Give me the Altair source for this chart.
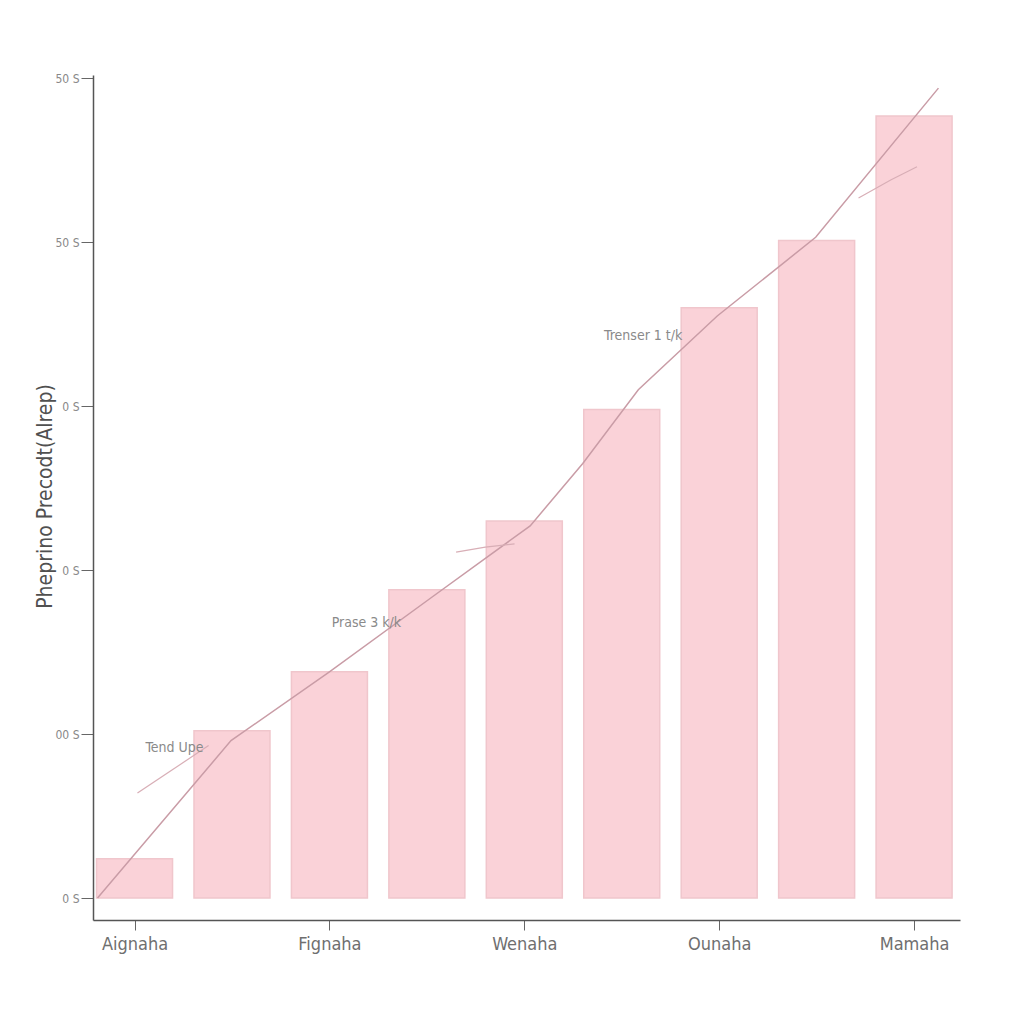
import altair as alt
import pandas as pd

# ---- data ----
bar_index = [1, 2, 3, 4, 5, 6, 7, 8, 9]
bar_values = [2.4, 10.2, 13.8, 18.8, 23.0, 29.8, 36.0, 40.1, 47.7]

x_tick_positions = [1, 3, 5, 7, 9]
x_tick_labels = ["Aignaha", "Fignaha", "Wenaha", "Ounaha", "Mamaha"]

y_tick_values = [0, 10, 20, 30, 40, 50]
y_tick_labels = ["0 S", "00 S", "0 S", "0 S", "50 S", "50 S"]

trend_x = [0.62, 1.99, 3.0, 4.04, 5.06, 5.6, 6.17, 6.98, 7.99, 9.25]
trend_y = [0.0, 9.6, 13.8, 18.3, 22.7, 26.5, 31.0, 35.5, 40.3, 49.4]

seg_x = [1.03, 1.76, None, 4.30, 4.60, 4.90, None, 8.43, 8.76, 9.03]
seg_y = [6.4, 9.3, None, 21.1, 21.4, 21.6, None, 42.7, 43.8, 44.6]
seg_group = ["a", "a", None, "b", "b", "b", None, "c", "c", "c"]

note_text = ["Tend Upe", "Prase 3 k/k", "Trenser 1 t/k"]
note_x = [1.41, 3.38, 6.22]
note_y = [9.15, 16.8, 34.3]

y_title = "Pheprino Precodt(Alrep)"

FONT = "DejaVu Sans Condensed, Liberation Sans, sans-serif"

# ---- tables ----
bars = pd.DataFrame({"idx": bar_index, "value": bar_values})
trend = pd.DataFrame({"x": trend_x, "y": trend_y, "order": range(len(trend_x))})
segs = pd.DataFrame({"x": seg_x, "y": seg_y, "g": seg_group}).dropna()
notes = pd.DataFrame({"text": note_text, "x": note_x, "y": note_y})

label_map_x = "{" + ",".join(f"'{p}':'{l}'" for p, l in zip(x_tick_positions, x_tick_labels)) + "}"
label_map_y = "{" + ",".join(f"'{p}':'{l}'" for p, l in zip(y_tick_values, y_tick_labels)) + "}"

x_scale = alt.Scale(domain=[0.625, 9.42], nice=False, zero=False)
y_scale = alt.Scale(domain=[-1.34, 50.2], nice=False, zero=False)

x_axis = alt.Axis(
    values=x_tick_positions,
    labelExpr=f"{label_map_x}[datum.value]",
    title=None, grid=False, domainColor="#555", domainWidth=1.5,
    tickColor="#666", tickSize=10, labelColor="#6f6f6f", labelFontSize=18,
    labelFont=FONT, labelPadding=5,
)
y_axis = alt.Axis(
    values=y_tick_values,
    labelExpr=f"{label_map_y}[datum.value]",
    title=y_title, grid=False, domainColor="#555", domainWidth=1.5,
    tickColor="#666", tickSize=12, labelColor="#888", labelFontSize=12,
    labelFont=FONT, labelPadding=2,
    titleColor="#505050", titleFontSize=21, titleFontWeight="normal",
    titleFont=FONT, titleX=-38, titleY=421,
)

bar_layer = alt.Chart(bars).mark_bar(
    size=76, color="#fad2d8", stroke="#f0c6cc", strokeWidth=1.5
).encode(
    x=alt.X("idx:Q", scale=x_scale, axis=x_axis),
    y=alt.Y("value:Q", scale=y_scale, axis=y_axis),
    y2=alt.datum(0),
)

trend_layer = alt.Chart(trend).mark_line(
    color="#c99ca6", strokeWidth=1.5
).encode(
    x=alt.X("x:Q", scale=x_scale),
    y=alt.Y("y:Q", scale=y_scale),
    order="order:Q",
)

seg_layer = alt.Chart(segs).mark_line(
    color="#d8aeb6", strokeWidth=1.2
).encode(
    x=alt.X("x:Q", scale=x_scale),
    y=alt.Y("y:Q", scale=y_scale),
    detail="g:N",
)

note_layer = alt.Chart(notes).mark_text(
    fontSize=14, color="#8a8a8a", font=FONT
).encode(
    x=alt.X("x:Q", scale=x_scale),
    y=alt.Y("y:Q", scale=y_scale),
    text="text:N",
)

chart = alt.layer(bar_layer, trend_layer, seg_layer, note_layer).properties(
    width=867, height=845,
    background="#ffffff",
    autosize=alt.AutoSizeParams(type="none"),
    padding={"left": 85, "top": 67, "right": 40, "bottom": 80},
).configure_view(stroke="transparent", strokeWidth=0)

chart.save("out.html", embed_options={"renderer": "svg", "actions": False})
